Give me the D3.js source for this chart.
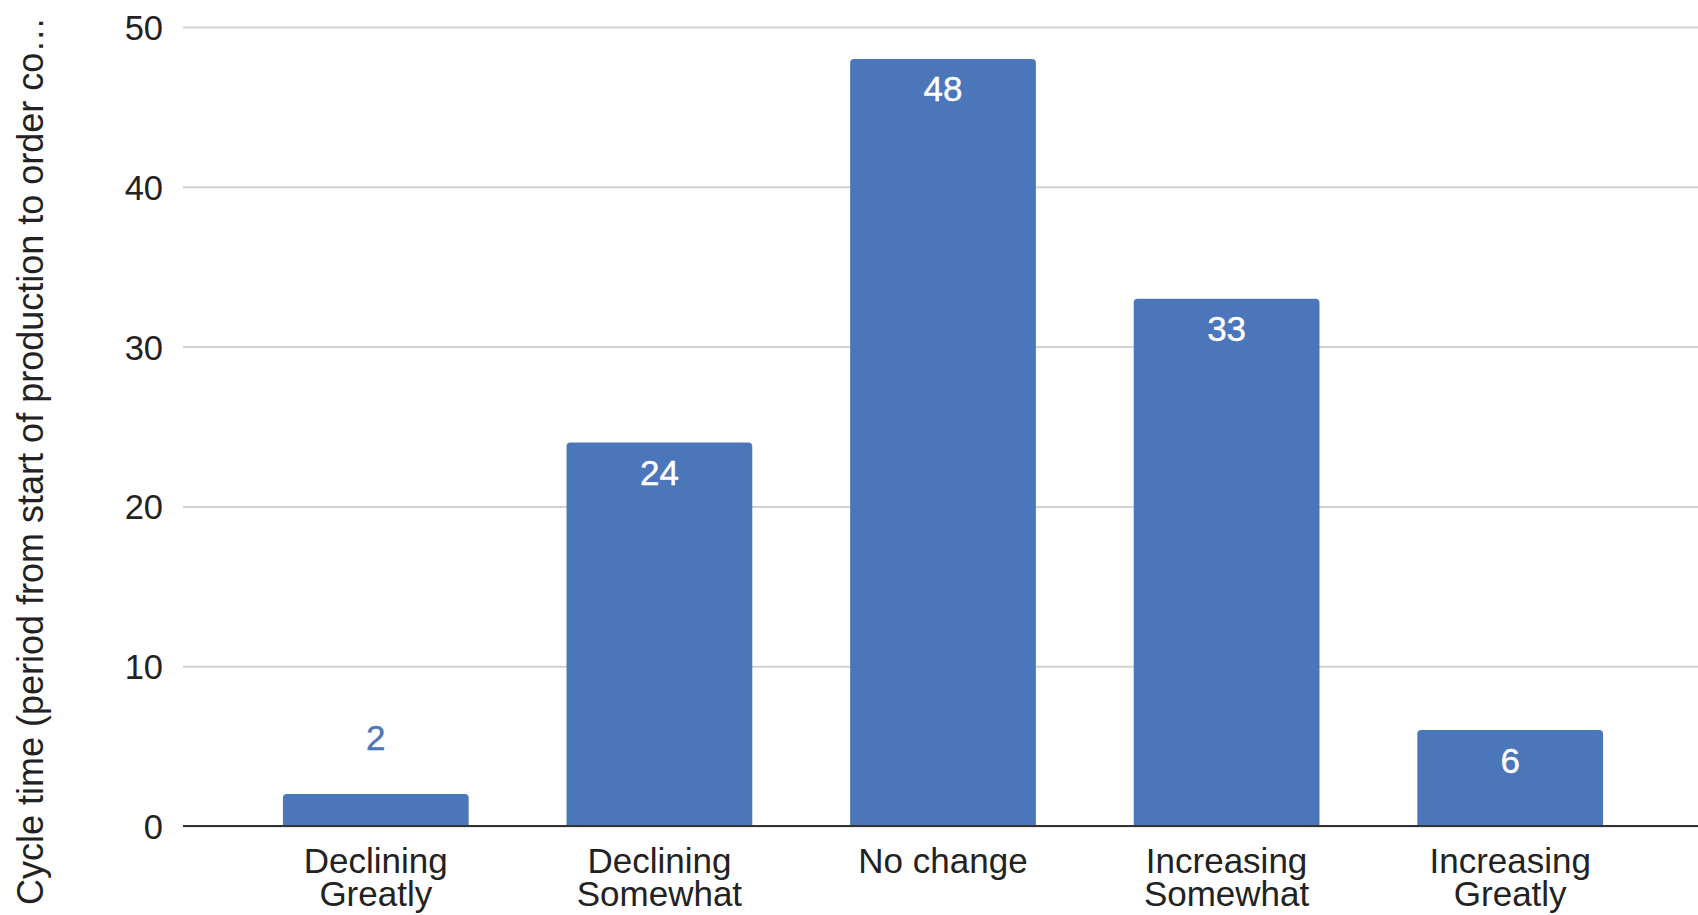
<!DOCTYPE html>
<html>
<head>
<meta charset="utf-8">
<script src="https://cdn.jsdelivr.net/npm/d3@7"></script>
<style>
  html, body { margin: 0; padding: 0; background: #fff; }
  svg { display: block; }
  text { font-family: "Liberation Sans", Arial, Helvetica, sans-serif; }
</style>
</head>
<body>
<svg id="chart" width="1698" height="915"></svg>
<script>
// Survey answers: change in cycle time
const categories = [
  ["Declining", "Greatly"],
  ["Declining", "Somewhat"],
  ["No change"],
  ["Increasing", "Somewhat"],
  ["Increasing", "Greatly"]
];
const counts = [2, 24, 48, 33, 6];
const yTicks = [0, 10, 20, 30, 40, 50];
const yTitle = "Cycle time (period from start of production to order co\u2026";

const W = 1698, H = 915;
const plotLeft = 183, plotRight = 1698;
const barColor = "#4c76ba";

const svg = d3.select("#chart");

const keys = categories.map(c => c.join(" "));

const x = d3.scaleBand()
  .domain(keys)
  .range([234, 1652])
  .paddingInner(0.345)
  .paddingOuter(0.1725);

const y = d3.scaleLinear()
  .domain([0, 50])
  .range([826, 27]);

// Gridlines and tick labels
const yAxis = d3.axisLeft(y)
  .tickValues(yTicks)
  .tickSize(-(plotRight - plotLeft))
  .tickPadding(20)
  .tickFormat(d3.format("d"));

const gy = svg.append("g")
  .attr("transform", `translate(${plotLeft},0)`)
  .call(yAxis);
gy.select(".domain").remove();
gy.selectAll(".tick line")
  .attr("stroke", "#d2d2d2")
  .attr("stroke-width", 2);
gy.selectAll(".tick text")
  .attr("fill", "#222")
  .attr("font-size", 34.5)
  .attr("dy", "0.36em");

// Bars with softly rounded top corners
const r = 4;
function barPath(x0, y0, w, h) {
  const rr = Math.min(r, h);
  return `M${x0},${y0 + h}V${y0 + rr}Q${x0},${y0} ${x0 + rr},${y0}` +
         `H${x0 + w - rr}Q${x0 + w},${y0} ${x0 + w},${y0 + rr}V${y0 + h}Z`;
}

const data = keys.map((k, i) => ({ key: k, lines: categories[i], value: counts[i] }));

svg.append("g")
  .selectAll("path")
  .data(data)
  .join("path")
  .attr("d", d => barPath(x(d.key), y(d.value), x.bandwidth(), y(0) - y(d.value)))
  .attr("fill", barColor);

// Value labels: inside the bar when it is tall enough, above it otherwise
svg.append("g")
  .selectAll("text")
  .data(data)
  .join("text")
  .attr("x", d => x(d.key) + x.bandwidth() / 2)
  .attr("y", d => (y(0) - y(d.value) > 60) ? y(d.value) + 42.5 : y(d.value) - 44)
  .attr("text-anchor", "middle")
  .attr("font-size", 35)
  .attr("fill", d => (y(0) - y(d.value) > 60) ? "#ffffff" : barColor)
  .attr("stroke", d => (y(0) - y(d.value) > 60) ? "#ffffff" : barColor)
  .attr("stroke-width", 0.4)
  .text(d => d.value);

// Baseline
svg.append("line")
  .attr("x1", plotLeft).attr("x2", plotRight)
  .attr("y1", y(0)).attr("y2", y(0))
  .attr("stroke", "#333")
  .attr("stroke-width", 2);

// Category labels (wrapped onto two lines)
const cat = svg.append("g")
  .selectAll("text")
  .data(data)
  .join("text")
  .attr("text-anchor", "middle")
  .attr("font-size", 35)
  .attr("fill", "#222");
cat.selectAll("tspan")
  .data(d => d.lines.map(l => ({ l, cx: x(d.key) + x.bandwidth() / 2 })))
  .join("tspan")
  .attr("x", t => t.cx)
  .attr("y", (t, i) => 873 + i * 33)
  .text(t => t.l);

// Y axis title
svg.append("text")
  .attr("transform", "translate(43,905) rotate(-90)")
  .attr("text-anchor", "start")
  .attr("font-size", 36)
  .attr("fill", "#222")
  .text(yTitle);
</script>
</body>
</html>
